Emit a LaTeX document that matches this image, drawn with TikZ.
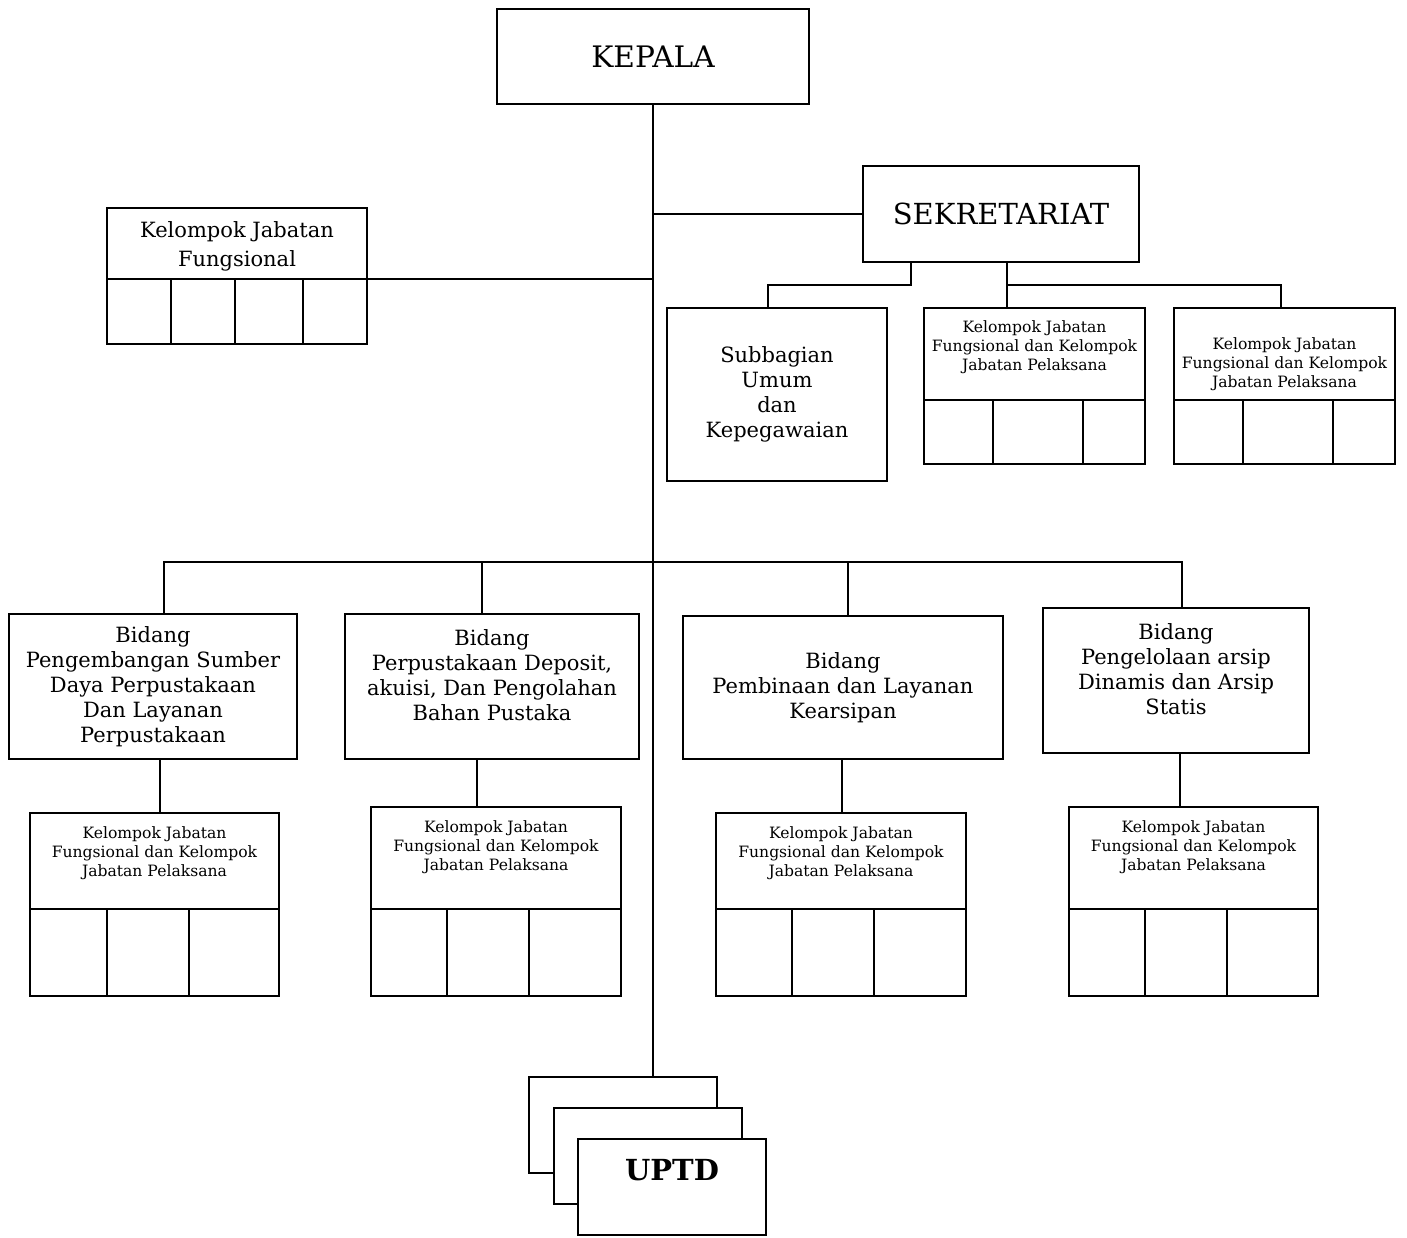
\documentclass[tikz,border=0pt]{standalone}
\usepackage{fontspec}
\setmainfont{DejaVu Serif}
\usetikzlibrary{positioning, calc}

\newcommand{\pxl}{0.5pt}
\tikzset{
  kotak/.style={draw, line width=0.9pt, rectangle, inner sep=0pt, outer sep=0pt, align=center, fill=white},
  garis/.style={line width=0.9pt},
  besar/.style={font=\fontsize{14.8}{17}\selectfont},
  sedang/.style={font=\fontsize{10.5}{12.5}\selectfont, align=center},
  kecil/.style={font=\fontsize{7.8}{9.5}\selectfont, align=center},
}

\begin{document}
\begin{tikzpicture}[x=0.5pt, y=-0.5pt]
  \useasboundingbox (0,0) rectangle (1407,1237);

  % pimpinan
  \node[kotak, besar, minimum width=312*\pxl, minimum height=95*\pxl] (kepala) at (653,56.5) {KEPALA};
  \node[kotak, besar, font=\fontsize{14.5}{17}\selectfont, minimum width=276*\pxl, minimum height=96*\pxl] (sek) at (1001,214) {SEKRETARIAT};

  % kelompok jabatan fungsional
  \node[kotak, minimum width=260*\pxl, minimum height=71*\pxl] (kjf) at (237,243.5) {};
  \node[sedang, font=\fontsize{10.5}{14.5}\selectfont] (kjf-t) at (237,246.5) {Kelompok Jabatan\\Fungsional};
  \node[kotak, below=0pt of kjf, minimum width=260*\pxl, minimum height=65*\pxl] (kjf-s) {};
  \foreach \x in {171,235,303}
    \draw[garis] (\x,0 |- kjf-s.north) -- (\x,0 |- kjf-s.south);

  % sekretariat
  \node[kotak, sedang, minimum width=220*\pxl, minimum height=173*\pxl] (subbag) at (777,394.5) {Subbagian\\Umum\\dan\\Kepegawaian};

  \node[kotak, minimum width=221*\pxl, minimum height=92*\pxl] (seka) at (1034.5,354) {};
  \node[kecil] (seka-t) at (1034.5,347) {Kelompok Jabatan\\Fungsional dan Kelompok\\Jabatan Pelaksana};
  \node[kotak, below=0pt of seka, minimum width=221*\pxl, minimum height=64*\pxl] (seka-s) {};
  \foreach \x in {993,1083}
    \draw[garis] (\x,0 |- seka-s.north) -- (\x,0 |- seka-s.south);

  \node[kotak, minimum width=221*\pxl, minimum height=92*\pxl] (sekb) at (1284.5,354) {};
  \node[kecil] (sekb-t) at (1284.5,364) {Kelompok Jabatan\\Fungsional dan Kelompok\\Jabatan Pelaksana};
  \node[kotak, below=0pt of sekb, minimum width=221*\pxl, minimum height=64*\pxl] (sekb-s) {};
  \foreach \x in {1243,1333}
    \draw[garis] (\x,0 |- sekb-s.north) -- (\x,0 |- sekb-s.south);

  % bidang
  \node[kotak, sedang, minimum width=288*\pxl, minimum height=145*\pxl] (b1) at (153,686.5)
    {Bidang\\Pengembangan Sumber\\Daya Perpustakaan\\Dan Layanan\\Perpustakaan};
  \node[kotak, minimum width=294*\pxl, minimum height=145*\pxl] (b2) at (492,686.5) {};
  \node[sedang] (b2-t) at (492,675) {Bidang\\Perpustakaan Deposit,\\akuisi, Dan Pengolahan\\Bahan Pustaka};
  \node[kotak, sedang, minimum width=320*\pxl, minimum height=143*\pxl] (b3) at (843,687.5)
    {Bidang\\Pembinaan dan Layanan\\Kearsipan};
  \node[kotak, minimum width=266*\pxl, minimum height=145*\pxl] (b4) at (1176,680.5) {};
  \node[sedang] (b4-t) at (1176,669.5) {Bidang\\Pengelolaan arsip\\Dinamis dan Arsip\\Statis};

  % kelompok jabatan di bawah bidang
  \node[kotak, minimum width=249*\pxl, minimum height=96*\pxl] (kjp1) at (154.5,861) {};
  \node[kecil] (kjp1-t) at (154.5,853) {Kelompok Jabatan\\Fungsional dan Kelompok\\Jabatan Pelaksana};
  \node[kotak, below=0pt of kjp1, minimum width=249*\pxl, minimum height=87*\pxl] (kjp1-s) {};

  \node[kotak, minimum width=250*\pxl, minimum height=102*\pxl] (kjp2) at (496,858) {};
  \node[kecil] (kjp2-t) at (496,847) {Kelompok Jabatan\\Fungsional dan Kelompok\\Jabatan Pelaksana};
  \node[kotak, below=0pt of kjp2, minimum width=250*\pxl, minimum height=87*\pxl] (kjp2-s) {};

  \node[kotak, minimum width=250*\pxl, minimum height=96*\pxl] (kjp3) at (841,861) {};
  \node[kecil] (kjp3-t) at (841,853) {Kelompok Jabatan\\Fungsional dan Kelompok\\Jabatan Pelaksana};
  \node[kotak, below=0pt of kjp3, minimum width=250*\pxl, minimum height=87*\pxl] (kjp3-s) {};

  \node[kotak, minimum width=249*\pxl, minimum height=102*\pxl] (kjp4) at (1193.5,858) {};
  \node[kecil] (kjp4-t) at (1193.5,847) {Kelompok Jabatan\\Fungsional dan Kelompok\\Jabatan Pelaksana};
  \node[kotak, below=0pt of kjp4, minimum width=249*\pxl, minimum height=87*\pxl] (kjp4-s) {};

  \foreach \n/\a/\b in {1/107/189, 2/447/529, 3/792/874, 4/1145/1227}
    \foreach \x in {\a,\b}
      \draw[garis] (\x,0 |- kjp\n-s.north) -- (\x,0 |- kjp\n-s.south);

  % uptd
  \node[kotak, minimum width=188*\pxl, minimum height=96*\pxl] (uptd1) at (623,1125) {};
  \node[kotak, minimum width=188*\pxl, minimum height=96*\pxl] (uptd2) at (648,1156) {};
  \node[kotak, minimum width=188*\pxl, minimum height=96*\pxl] (uptd3) at (672,1187) {};
  \node[font=\fontsize{14.5}{17}\selectfont\bfseries] (uptd-t) at (672,1170) {UPTD};

  % garis komando
  \draw[garis] (kepala.south) -- (kepala.south |- uptd1.north);
  \draw[garis] (sek.west) -- (sek.west -| kepala.south);
  \draw[garis] (kjf.south east) -- (kjf.south east -| kepala.south);

  \coordinate (sekkiri) at ($(sek.south west)+(48,23)$);
  \coordinate (sekkanan) at ($(sek.south west)+(144,23)$);
  \draw[garis] (sekkiri |- sek.south) -- (sekkiri) -| ($(subbag.north)+(-9,0)$);
  \draw[garis] (sekkanan |- sek.south) -- (sekkanan |- seka.north);
  \draw[garis] (sekkanan) -| ($(sekb.north)+(-3.5,0)$);

  % bidang dan kelompok jabatan
  \coordinate (bus) at (654,562);
  \draw[garis] ($(b1.north)+(11,0)$) |- (bus) -| ($(b4.north)+(6,0)$);
  \foreach \n/\dx in {2/-10, 3/5}
    \draw[garis] ($(b\n.north)+(\dx,0)$) -- ($(b\n.north |- bus)+(\dx,0)$);

  \foreach \n/\dx in {1/7, 2/-15, 3/-1, 4/4}
    \draw[garis] ($(b\n.south)+(\dx,0)$) -- ($(b\n.south |- kjp\n.north)+(\dx,0)$);
\end{tikzpicture}
\end{document}
